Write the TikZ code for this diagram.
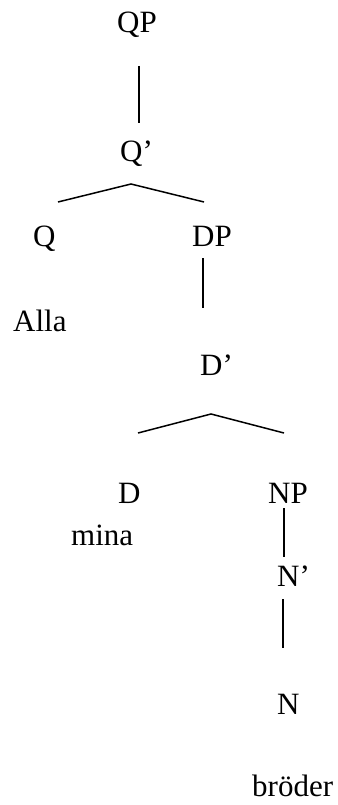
\documentclass[tikz,border=0pt]{standalone}
\usepackage{fontspec}
\setmainfont{Liberation Serif}
\usepackage{tikz}
\usetikzlibrary{positioning}

\begin{document}
\begin{tikzpicture}[x=1pt,y=-1pt, labelnode/.style={inner sep=0pt,anchor=base west,font=\fontsize{31}{37}\selectfont}, branch/.style={line width=1.5pt}]
		\useasboundingbox (0,0) rectangle (337,805);
		\node[labelnode] (0) at (117, 33) {QP};
		\node[labelnode] (1) at (120, 162) {Q’};
		\node[labelnode] (2) at (33, 246) {Q};
		\node[labelnode] (3) at (192, 246) {DP};
		\node[labelnode] (4) at (13, 331) {Alla};
		\node[labelnode] (5) at (200, 375) {D’};
		\node[labelnode] (6) at (118, 503) {D};
		\node[labelnode] (7) at (268, 503) {NP};
		\node[labelnode] (8) at (71, 545) {mina};
		\node[labelnode] (9) at (277, 586) {N’};
		\node[labelnode] (10) at (277, 714) {N};
		\node[labelnode] (11) at (252, 796) {bröder};
		\coordinate (a0) at (139, 66);
		\coordinate (a1) at (139, 123);
		\coordinate (b0) at (131, 184);
		\coordinate (b1) at (58, 202);
		\coordinate (b2) at (204, 202);
		\coordinate (c0) at (203, 258);
		\coordinate (c1) at (203, 308);
		\coordinate (d0) at (211, 414);
		\coordinate (d1) at (138, 433);
		\coordinate (d2) at (284, 433);
		\coordinate (e0) at (284, 508);
		\coordinate (e1) at (284, 557);
		\coordinate (f0) at (283, 599);
		\coordinate (f1) at (283, 648);
		\draw[branch] (a0) -- (a1);
		\draw[branch] (b1) -- (b0) -- (b2);
		\draw[branch] (c0) -- (c1);
		\draw[branch] (d1) -- (d0) -- (d2);
		\draw[branch] (e0) -- (e1);
		\draw[branch] (f0) -- (f1);
		
	\end{tikzpicture}
\end{document}
